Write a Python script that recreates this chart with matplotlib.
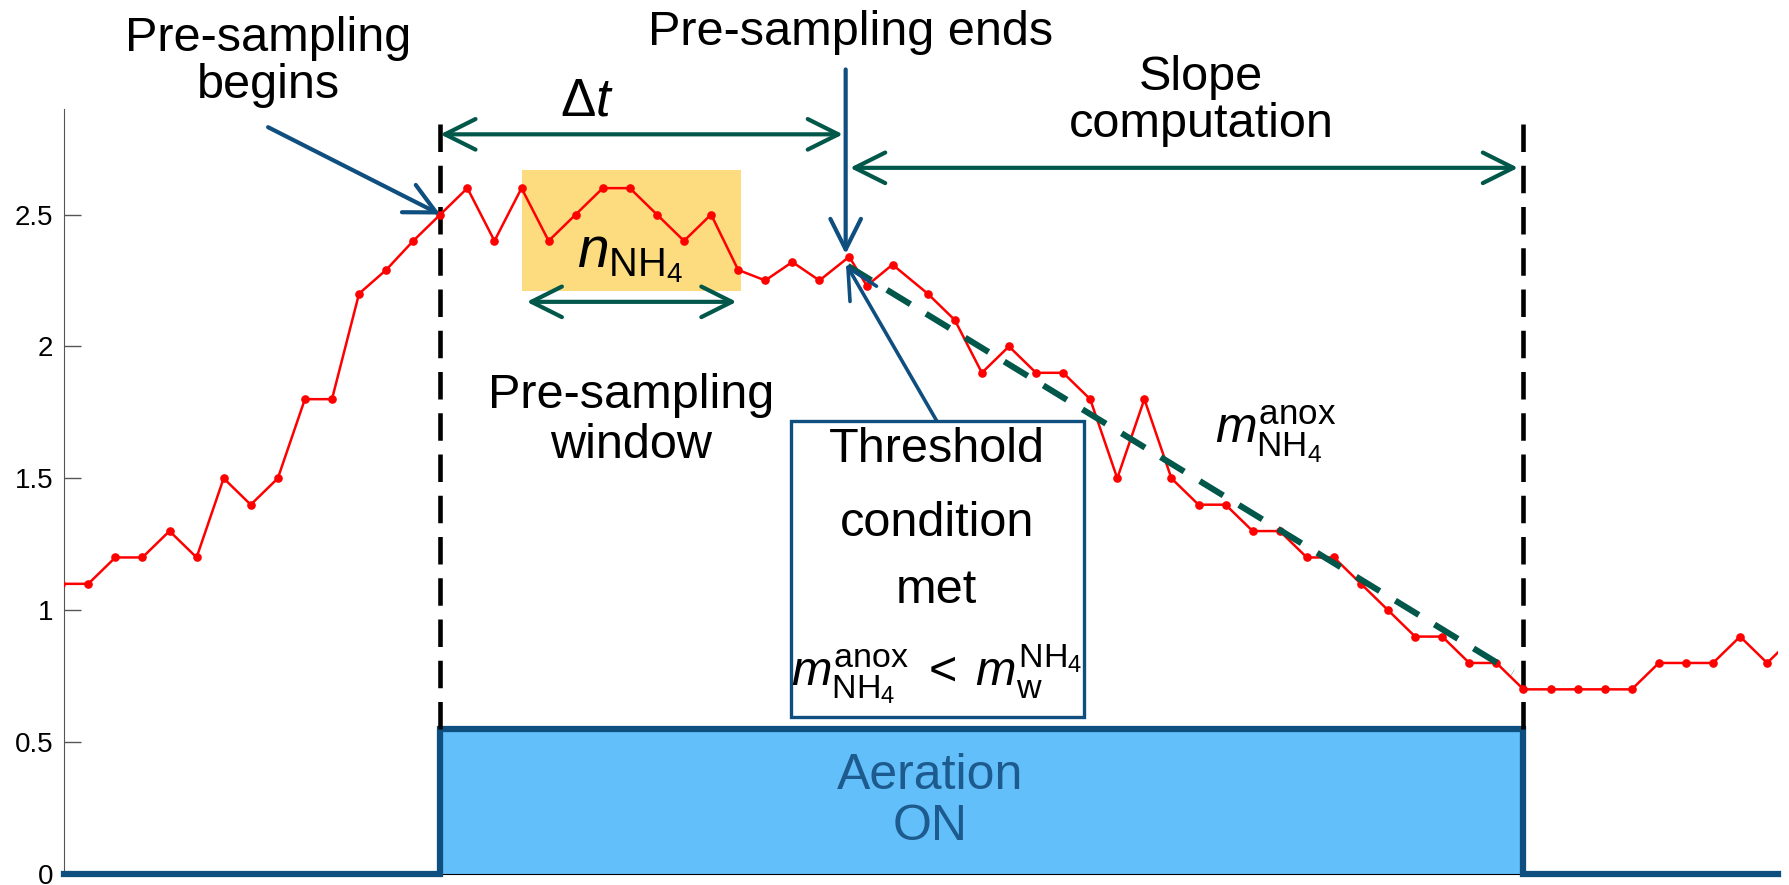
import matplotlib.pyplot as plt
from matplotlib.patches import Rectangle

plt.rcParams['font.family'] = 'Liberation Sans'
plt.rcParams['mathtext.fontset'] = 'custom'
plt.rcParams['mathtext.rm'] = 'Liberation Sans'
plt.rcParams['mathtext.it'] = 'Liberation Sans:italic'

# NH4 signal (sample index, concentration)
t = list(range(0, 29)) + [29.1, 29.75, 30.7] + list(range(32, 65))
nh4 = [1.1, 1.1, 1.2, 1.2, 1.3, 1.2, 1.5, 1.4, 1.5, 1.8, 1.8, 2.2, 2.29, 2.4,
       2.5, 2.6, 2.4, 2.6, 2.4, 2.5, 2.6, 2.6, 2.5, 2.4, 2.5, 2.29, 2.25, 2.32,
       2.25, 2.34, 2.23, 2.31, 2.2, 2.1, 1.9, 2.0, 1.9, 1.9, 1.8, 1.5, 1.8, 1.5,
       1.4, 1.4, 1.3, 1.3, 1.2, 1.2, 1.1, 1.0, 0.9, 0.9, 0.8, 0.8, 0.7, 0.7,
       0.7, 0.7, 0.7, 0.8, 0.8, 0.8, 0.9, 0.8, 0.9]

# aeration period
aer_on, aer_off, aer_level = 14, 54, 0.55
# pre-sampling window (n_NH4 samples) and end of pre-sampling
win_start, win_end = 17.03, 25.09
presamp_end = 28.97
# fitted anoxic slope
slope_t = [29.05, 53.61]
slope_y = [2.305, 0.764]

yticks = [0, 0.5, 1, 1.5, 2, 2.5]
ytick_labels = ['0', '0.5', '1', '1.5', '2', '2.5']

blue = '#0f4f80'
green = '#00574a'
light_blue = '#63bffa'
yellow = '#fddc80'
fs = 35

fig = plt.figure(figsize=(17.89, 8.85), dpi=100)
ax = fig.add_axes([64.3 / 1789, 1 - 874 / 885, (1778 - 64.3) / 1789, (874 - 109) / 885])
xmin, xmax = 0.115, 63.4
ax.set_xlim(xmin, xmax)
ax.set_ylim(0, 2.9)

# aeration block
ax.fill_between([aer_on, aer_off], 0, aer_level, color=light_blue, lw=0, zorder=2)
ax.plot([xmin, aer_on, aer_on, aer_off, aer_off, xmax], [0, 0, aer_level, aer_level, 0, 0],
        color=blue, lw=4.5, solid_joinstyle='miter', zorder=3, clip_on=False)
ax.text((aer_on + aer_off) / 2 - 1.9, aer_level / 2, 'Aeration\nON', color='#1d5b8e',
        fontsize=fs + 1, ha='center', va='center', linespacing=1.15, zorder=4)

# pre-sampling window highlight
ax.add_patch(Rectangle((win_start, 2.21), win_end - win_start, 0.46, fc=yellow, ec='none', zorder=1))

# vertical dashed markers
for xv in (aer_on, aer_off):
    ax.plot([xv, xv], [aer_level, 2.86], color='black', lw=3.3, dashes=(6, 3), zorder=3,
            clip_on=False)

# signal
ax.plot(t, nh4, color='red', lw=1.8, marker='o', ms=5.2, zorder=4)

# slope line
ax.plot(slope_t, slope_y, color=green, lw=4.4, dashes=(4.5, 3), zorder=5)

# threshold box
ax.add_patch(Rectangle((26.94, 0.597), 10.83, 1.121, fc='white', ec=blue, lw=2.4, zorder=6))


def arrow(xy, xytext, style, color, lw=3.0):
    ax.annotate('', xy=xy, xytext=xytext, annotation_clip=False,
                arrowprops=dict(arrowstyle=style, color=color, lw=lw, shrinkA=0, shrinkB=0,
                                mutation_scale=22), zorder=7)


dbl = '<->,head_length=1.0,head_width=0.5'
one = '->,head_length=1.0,head_width=0.5'
arrow((presamp_end - 0.1, 2.804), (aer_on, 2.804), dbl, green)
arrow((53.8, 2.677), (29.13, 2.677), dbl, green)
arrow((win_end - 0.15, 2.169), (win_start + 0.16, 2.169), dbl, green)
arrow((aer_on, 2.50), (7.64, 2.831), one, blue)
arrow((presamp_end, 2.35), (presamp_end, 3.05), one, blue)
arrow((28.98, 2.313), (32.33, 1.718), one, blue, lw=2.6)

# labels
ax.text(7.64, 3.078, 'Pre-sampling\nbegins', fontsize=fs, ha='center', va='center',
        linespacing=1.05, clip_on=False)
ax.text(29.15, 3.19, 'Pre-sampling ends', fontsize=fs, ha='center', va='center', clip_on=False)
ax.text(19.4, 2.93, r'$\Delta t$', fontsize=fs + 3, ha='center', va='center', clip_on=False)
ax.text(42.1, 2.93, 'Slope\ncomputation', fontsize=fs, ha='center', va='center',
        linespacing=1.05, clip_on=False)
ax.text(21.04, 1.718, 'Pre-sampling\nwindow', fontsize=fs, ha='center', va='center',
        linespacing=1.15)
ax.text(21.0, 2.335, r'$n_{\mathrm{NH}_4}$', fontsize=fs + 6, ha='center', va='center', zorder=5)
ax.text(42.61, 1.63, r'$m_{\mathrm{NH}_4}^{\mathrm{anox}}$', fontsize=fs + 1, ha='left',
        va='baseline', zorder=5)

ax.text(32.33, 1.608, 'Threshold', fontsize=fs, ha='center', va='center', zorder=7)
ax.text(32.33, 1.327, 'condition', fontsize=fs, ha='center', va='center', zorder=7)
ax.text(32.33, 1.074, 'met', fontsize=fs, ha='center', va='center', zorder=7)
ax.text(32.33, 0.714, r'$m_{\mathrm{NH}_4}^{\mathrm{anox}}\;<\;m_{\mathrm{w}}^{\mathrm{NH}_4}$',
        fontsize=fs, ha='center', va='baseline', zorder=7)

# axes styling
ax.set_xticks([])
ax.set_yticks(yticks)
ax.set_yticklabels(ytick_labels)
ax.tick_params(axis='y', direction='in', length=12.5, width=1, color='#555555', pad=8,
               labelsize=20)
ax.spines['top'].set_visible(False)
ax.spines['right'].set_visible(False)
ax.spines['left'].set_color('#555555')
ax.spines['bottom'].set_color('black')

fig.savefig('out.png', dpi=100)
